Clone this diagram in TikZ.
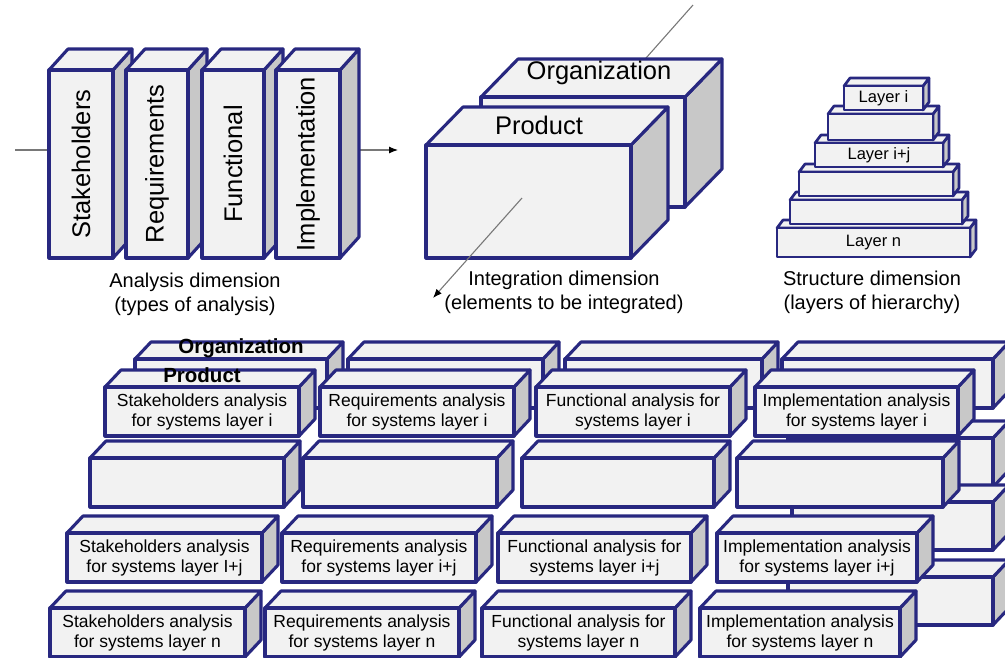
\documentclass[tikz,border=0pt]{standalone}
\usepackage{fontspec}
\setmainfont{Liberation Sans}
\usetikzlibrary{arrows.meta}

\definecolor{boxline}{RGB}{40,40,128}
\definecolor{boxfill}{RGB}{242,242,242}
\definecolor{boxside}{RGB}{200,200,200}
\definecolor{axisgray}{RGB}{120,120,120}

\tikzset{
	face/.style={fill=boxfill, draw=boxline, line width=3.1pt, line join=round},
	side/.style={face, fill=boxside},
	boxtext/.style={align=center, inner sep=0pt, font=\fontsize{17.5}{20}\selectfont},
	bigtext/.style={inner sep=0pt, font=\fontsize{25.5}{30}\selectfont},
	tagtext/.style={inner sep=0pt, font=\fontsize{20.5}{24}\selectfont\bfseries},
	dimlabel/.style={align=center, inner sep=0pt, font=\fontsize{20}{24}\selectfont},
	axis/.style={draw=axisgray, line width=1.1pt, -{Latex[length=9pt,width=7pt,color=black]}},
}

% box: name, x, y, width, height, depth x, depth y, text
\newcommand{\slab}[8]{%
	\filldraw[side] (#2+#4,#3) -- ++(#6,-#7) -- ++(0,#5) -- ++(-#6,#7) -- cycle;
	\filldraw[face] (#2,#3) -- ++(#6,-#7) -- ++(#4,0) -- ++(-#6,#7) -- cycle;
	\filldraw[face] (#2,#3) rectangle ++(#4,#5);
	\node[boxtext] (#1) at (#2+#4/2,#3+#5/2) {#8};
}

\begin{document}
\begin{tikzpicture}[x=1pt,y=-1pt]
		\useasboundingbox (0,0) rectangle (1005,657);
		
		% Axis behind analysis boxes
		\coordinate (ain) at (15,150);
		\coordinate (aout) at (398,150);
		\draw[axis] (ain) -- (aout);
		
		% Analysis dimension
		\begin{scope}[boxtext/.style={rotate=90, inner sep=0pt, font=\fontsize{25.5}{30}\selectfont}]
			\slab{stake}{49}{70}{64}{188}{19}{21}{Stakeholders}
			\slab{reqs}{126}{70}{62}{188}{19}{21}{Requirements}
			\slab{func}{202}{70}{62}{188}{19}{21}{Functional}
			\slab{impl}{276}{70}{64}{188}{19}{21}{Implementation}
		\end{scope}
		\node[dimlabel] (anadim) at (195,294) {Analysis dimension\\(types of analysis)};
		
		% Axis behind integration boxes
		\coordinate (itop) at (693,5);
		\coordinate (iexit) at (522,198);
		\coordinate (iend) at (433,298);
		\draw[draw=axisgray, line width=1.1pt] (itop) -- (iexit);
		
		% Integration dimension
		\slab{org}{481}{97}{204}{110}{37}{38}{}
		\slab{prod}{426}{145}{205}{113}{37}{38}{}
		\node[bigtext] (orgname) at (599,73) {Organization};
		\node[bigtext] (prodname) at (539,125) {Product};
		\draw[axis] (iexit) -- (iend);
		\node[dimlabel] (intdim) at (564,292) {Integration dimension\\(elements to be integrated)};
		
		% Structure dimension, bottom layer first
		\begin{scope}[face/.append style={line width=2.7pt}, boxtext/.style={inner sep=0pt, font=\fontsize{16.5}{19}\selectfont}]
			\slab{layn}{777}{228}{193}{29}{6}{8}{Layer n}
			\slab{lay5}{790}{200}{172}{24}{6}{8}{}
			\slab{lay4}{799}{172}{154}{24}{6}{8}{}
			\slab{layj}{815}{143}{128}{24}{6}{8}{Layer i+j}
			\slab{lay2}{828}{114}{105}{26}{6}{8}{}
			\slab{layi}{844}{86}{79}{24}{6}{8}{Layer i}
		\end{scope}
		\node[dimlabel] (strdim) at (872,292) {Structure dimension\\(layers of hierarchy)};
		
		% Organization boxes (back)
		\slab{ogi1}{135}{359}{192}{49}{16}{17}{}
		\slab{ogi2}{348}{359}{195}{49}{16}{17}{}
		\slab{ogi3}{565}{359}{197}{49}{16}{17}{}
		\slab{ogi4}{782}{359}{211}{49}{16}{17}{}
		\slab{og24}{788}{438}{205}{49}{16}{17}{}
		\slab{ogj4}{792}{502}{201}{48}{16}{17}{}
		\slab{ogn4}{788}{577}{205}{48}{16}{17}{}
		
		% Layer i row
		\slab{shi}{105}{387}{194}{49}{16}{17}{Stakeholders analysis\\for systems layer i}
		\slab{rqi}{320}{387}{194}{49}{16}{17}{Requirements analysis\\for systems layer i}
		\slab{fni}{536}{387}{194}{49}{16}{17}{Functional analysis for\\systems layer i}
		\slab{imi}{755}{387}{203}{49}{16}{17}{Implementation analysis\\for systems layer i}
		\node[tagtext] (orgtag) at (241,348) {Organization};
		\node[tagtext] (prodtag) at (202,375) {Product};
		
		% Empty row
		\slab{sh2}{90}{458}{194}{49}{16}{17}{}
		\slab{rq2}{303}{458}{194}{49}{16}{17}{}
		\slab{fn2}{522}{458}{192}{49}{16}{17}{}
		\slab{im2}{737}{458}{206}{49}{16}{17}{}
		
		% Layer i+j row
		\slab{shj}{67}{533}{195}{49}{16}{17}{Stakeholders analysis\\for systems layer I+j}
		\slab{rqj}{282}{533}{194}{49}{16}{17}{Requirements analysis\\for systems layer i+j}
		\slab{fnj}{498}{533}{193}{49}{16}{17}{Functional analysis for\\systems layer i+j}
		\slab{imj}{717}{533}{200}{49}{16}{17}{Implementation analysis\\for systems layer i+j}
		
		% Layer n row
		\slab{shn}{50}{608}{195}{49}{16}{17}{Stakeholders analysis\\for systems layer n}
		\slab{rqn}{265}{608}{194}{49}{16}{17}{Requirements analysis\\for systems layer n}
		\slab{fnn}{482}{608}{193}{49}{16}{17}{Functional analysis for\\systems layer n}
		\slab{imn}{700}{608}{200}{49}{16}{17}{Implementation analysis\\for systems layer n}
	\end{tikzpicture}
\end{document}
